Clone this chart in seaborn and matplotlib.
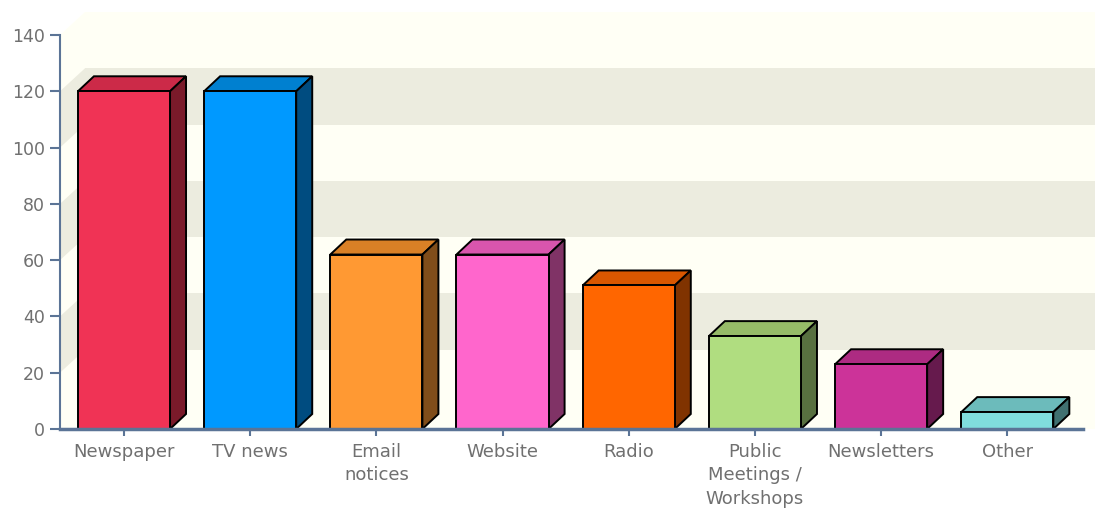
import matplotlib
matplotlib.use('Agg')
import matplotlib.pyplot as plt
import matplotlib.patches as mpatches
import numpy as np
import seaborn as sns

# Data
categories = ['Newspaper', 'TV news', 'Email\nnotices', 'Website', 'Radio',
              'Public\nMeetings /\nWorkshops', 'Newsletters', 'Other']
values = [120, 120, 62, 62, 51, 33, 23, 6]
front_colors = ['#F03355', '#0099FF', '#FF9933', '#FF66CC', '#FF6600',
                '#B0DD80', '#CC3399', '#80DDDD']
top_colors = ['#CC2A48', '#0080D0', '#D98026', '#D955AD', '#D95700',
              '#96BB68', '#AD2B82', '#6CBBBB']
side_colors = ['#7A1A2A', '#004C80', '#804D1A', '#803366', '#803300',
               '#587040', '#661A4D', '#407070']
y_ticks = [0, 20, 40, 60, 80, 100, 120, 140]
bands = [(20, 40), (60, 80), (100, 120)]

sns.set_style('white')
plt.rcParams['font.family'] = ['DejaVu Sans']

fig = plt.figure(figsize=(10.95, 5.14), dpi=100)
ax = fig.add_axes([60 / 1095, 85 / 514, 1023 / 1095, 394 / 514])
ax.set_xlim(-0.507, 7.6)
ax.set_ylim(0, 140)

axis_col = '#5B7496'
wall_col = '#FFFFF5'
band_col = '#ECECDF'
text_col = '#707070'
bar_dx, bar_dy = 16, 15     # bar depth in pixels
wall_dx, wall_dy = 25, 23   # wall depth in pixels

ax.set_facecolor('white')


def to_data(px):
    return ax.transData.inverted().transform(px)


def shifted(x, y, dx, dy):
    p = ax.transData.transform((x, y))
    return to_data((p[0] + dx, p[1] + dy))


x0, x1 = ax.get_xlim()
ext = 0.2
# cream plot area including back wall and left side wall
outline = [(x0, 0), (x0, 140), shifted(x0, 140, wall_dx, wall_dy),
           shifted(x1 + ext, 140, 0, wall_dy), (x1 + ext, 0)]
ax.add_patch(mpatches.Polygon(outline, closed=True, facecolor=wall_col,
                              edgecolor='none', clip_on=False, zorder=0))
for lo, hi in bands:
    # back wall stripe
    ax.add_patch(mpatches.Polygon(
        [shifted(x0, lo, wall_dx, wall_dy), shifted(x0, hi, wall_dx, wall_dy),
         shifted(x1 + ext, hi, 0, wall_dy), shifted(x1 + ext, lo, 0, wall_dy)],
        closed=True, facecolor=band_col, edgecolor='none', clip_on=False, zorder=0.5))
    # left side wall stripe
    ax.add_patch(mpatches.Polygon(
        [(x0, lo), (x0, hi), shifted(x0, hi, wall_dx, wall_dy),
         shifted(x0, lo, wall_dx, wall_dy)],
        closed=True, facecolor=band_col, edgecolor='none', clip_on=False, zorder=0.5))

sns.barplot(x=categories, y=values, hue=categories, palette=front_colors,
            width=0.73, edgecolor='black', linewidth=1.4, legend=False,
            saturation=1, ax=ax, zorder=3)
ax.set_xlim(x0, x1)
ax.set_ylim(0, 140)

bars = [p for p in ax.patches if isinstance(p, mpatches.Rectangle)]
bars = sorted(bars, key=lambda b: b.get_x())
for i, bar in enumerate(bars):
    l = bar.get_x()
    r = l + bar.get_width()
    h = bar.get_height()
    top = [(l, h), (r, h), shifted(r, h, bar_dx, bar_dy), shifted(l, h, bar_dx, bar_dy)]
    side = [(r, 0), (r, h), shifted(r, h, bar_dx, bar_dy), shifted(r, 0, bar_dx, bar_dy)]
    ax.add_patch(mpatches.Polygon(top, closed=True, facecolor=top_colors[i],
                                  edgecolor='black', linewidth=1.4, zorder=2.5, clip_on=False))
    ax.add_patch(mpatches.Polygon(side, closed=True, facecolor=side_colors[i],
                                  edgecolor='black', linewidth=1.4, zorder=2.5, clip_on=False))

ax.set_yticks(y_ticks)
ax.set_yticklabels([str(v) for v in y_ticks])
ax.tick_params(axis='y', length=7, width=1.5, color=axis_col, pad=4,
               labelsize=12.5, labelcolor=text_col, left=True)
ax.tick_params(axis='x', length=5, width=1.5, color=axis_col, pad=5,
               labelsize=13, labelcolor=text_col, bottom=True)
for lbl in ax.get_xticklabels():
    lbl.set_linespacing(1.4)

for s in ['top', 'right']:
    ax.spines[s].set_visible(False)
ax.spines['left'].set_color(axis_col)
ax.spines['left'].set_linewidth(1.5)
ax.spines['left'].set_zorder(5)
ax.spines['bottom'].set_color(axis_col)
ax.spines['bottom'].set_linewidth(2.5)
ax.spines['bottom'].set_zorder(5)
ax.set_xlabel('')
ax.set_ylabel('')

fig.savefig('out.png', dpi=100, facecolor='white')
